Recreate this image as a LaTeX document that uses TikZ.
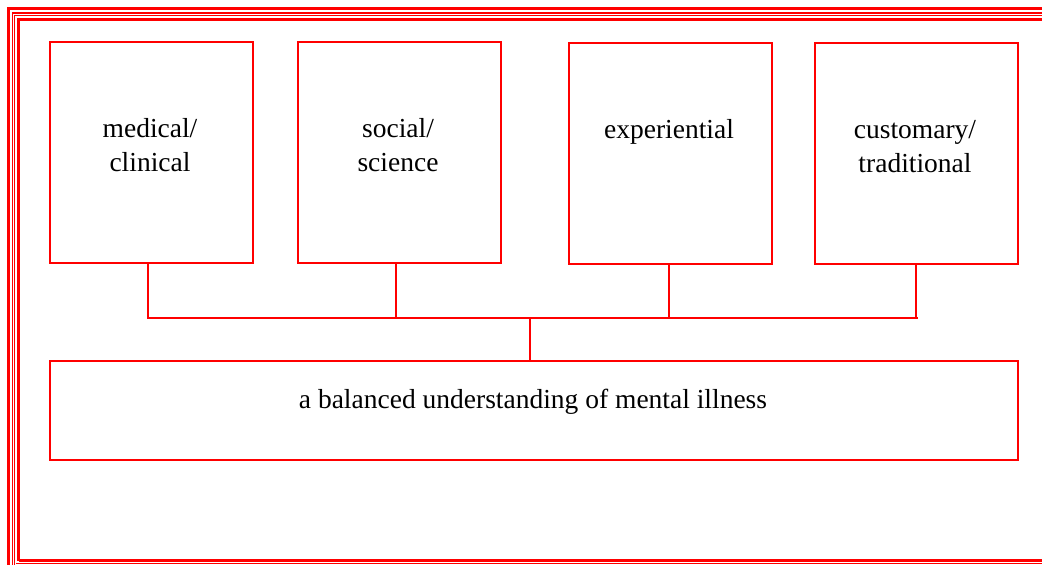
\documentclass[tikz,border=0pt]{standalone}
\usepackage{fontspec}
\setmainfont{Liberation Serif}
\definecolor{fr}{RGB}{255,0,0}
\tikzset{
  x=1pt,y=-1pt,
  box/.style={draw=fr,line width=2pt,inner sep=0pt},
  lbl/.style={font=\fontsize{27.5}{34.5}\selectfont,align=center,inner sep=0pt,text=black},
  conn/.style={draw=fr,line width=2pt},
  thickfr/.style={draw=fr,line width=3.5pt},
  thinfr/.style={draw=fr,line width=1.2pt}
}
\begin{document}
\begin{tikzpicture}
\useasboundingbox (0,0) rectangle (1042,565);
\begin{scope}
\clip (0,0) rectangle (1042,565);
\draw[thickfr] (8.5,1100) -- (8.5,8.5) -- (1100,8.5);
\draw[thinfr] (12.5,1100) -- (12.5,13) -- (1100,13);
\draw[thinfr] (14.8,1100) -- (14.8,15.3) -- (1100,15.3);
\draw[thickfr] (18.5,560.5) -- (18.5,19.5) -- (1100,19.5);
\draw[thickfr] (18.5,560.5) -- (1100,560.5);
\draw[thinfr] (16,563.8) -- (1100,563.8);
\end{scope}
% boxes
\node[box,minimum width=203pt,minimum height=221pt,anchor=north west] (b1) at (49,41) {};
\node[box,minimum width=203pt,minimum height=221pt,anchor=north west] (b2) at (297,41) {};
\node[box,minimum width=203pt,minimum height=221pt,anchor=north west] (b3) at (568,42) {};
\node[box,minimum width=203pt,minimum height=221pt,anchor=north west] (b4) at (814,42) {};
\node[box,minimum width=968pt,minimum height=99pt,anchor=north west] (bb) at (49,360) {};
% labels (base anchor = last line baseline)
\node[lbl,anchor=base] (t1) at (150,171.5) {medical/\\clinical};
\node[lbl,anchor=base] (t2) at (398,171.5) {social/\\science};
\node[lbl,anchor=base] (t3) at (669,138) {experiential};
\node[lbl,anchor=base] (t4) at (915,172.5) {customary/\\traditional};
\node[lbl,anchor=base] (tb) at (533,408) {a balanced understanding of mental illness};
% connectors
\coordinate (h1) at (148,318);
\coordinate (h2) at (396,318);
\coordinate (h3) at (669,318);
\coordinate (h4) at (916,318);
\coordinate (hc) at (530,318);
\draw[conn] (b1.south -| h1) -- (h1);
\draw[conn] (b2.south -| h2) -- (h2);
\draw[conn] (b3.south -| h3) -- (h3);
\draw[conn] (b4.south -| h4) -- ([yshift=1pt]h4);
\draw[conn] ([xshift=-1pt]h1) -- ([xshift=2pt]h4);
\draw[conn] (hc) -- (bb.north -| hc);
\end{tikzpicture}
\end{document}
